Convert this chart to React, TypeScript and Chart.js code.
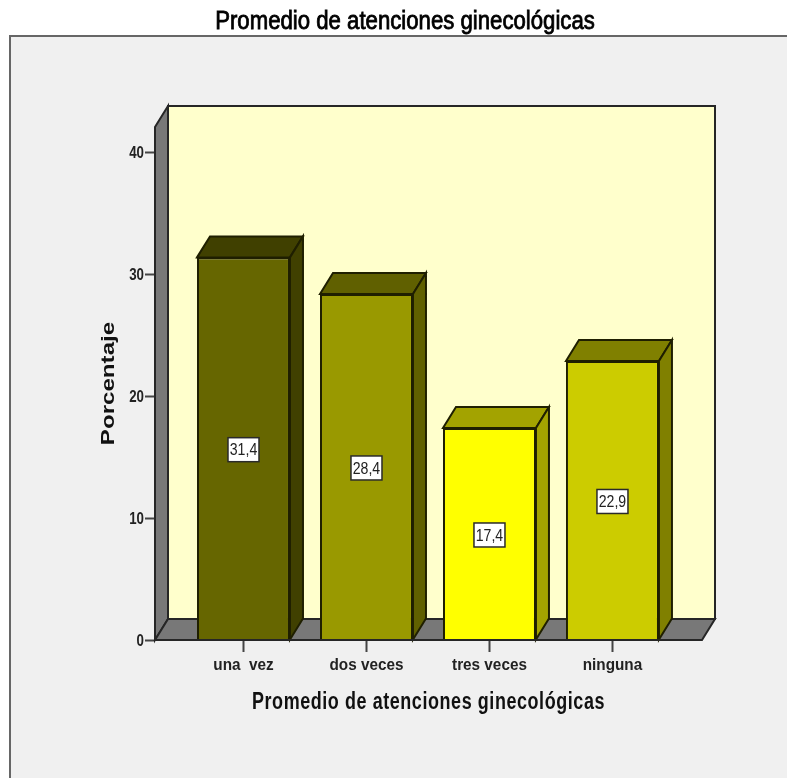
import React, { useEffect, useRef } from "react";
import { Chart, registerables } from "chart.js";

Chart.register(...registerables);

const categories = ["una  vez", "dos veces", "tres veces", "ninguna"];
const values = [31.4, 28.4, 17.4, 22.9];
const valueLabels = ["31,4", "28,4", "17,4", "22,9"];
const yTicks = [0, 10, 20, 30, 40];
const frontColors = ["#666600", "#999900", "#ffff00", "#cccc00"];
const shadeColors = ["#404000", "#606000", "#a3a300", "#808000"];
const chartTitle = "Promedio de atenciones ginecológicas";
const xTitle = "Promedio de atenciones ginecológicas";
const yTitle = "Porcentaje";

const FONT = '"Liberation Sans", Arial, sans-serif';
const DX = 13;
const DY = 21;
const LINE = "#262626";
const WALL = "#787878";

function poly(ctx: CanvasRenderingContext2D, pts: number[][], fill: string, stroke = LINE, lw = 2) {
  ctx.beginPath();
  pts.forEach((p, i) => (i ? ctx.lineTo(p[0], p[1]) : ctx.moveTo(p[0], p[1])));
  ctx.closePath();
  ctx.fillStyle = fill;
  ctx.fill();
  ctx.lineWidth = lw;
  ctx.strokeStyle = stroke;
  ctx.lineJoin = "miter";
  ctx.stroke();
}

// The reference uses a condensed face (and a stretched axis title): reshape glyphs horizontally.
function condenseText(ctx: any) {
  if (ctx.__condensed) return;
  ctx.__condensed = true;
  const orig = ctx.fillText.bind(ctx);
  ctx.fillText = (t: string, x: number, y: number) => {
    const isNumber = /^\d+$/.test(t);
    const isBold = String(ctx.font).includes("bold");
    const isXTitle = t === xTitle && isBold;
    const isMainTitle = t === chartTitle && !isBold;
    let sx = 0.83;
    if (t === yTitle) sx = 1.34;
    else if (isMainTitle) sx = 0.887;
    else if (isXTitle) sx = 0.78;
    else if (categories.includes(t)) sx = 0.9;
    ctx.save();
    ctx.translate(x, y + (isNumber ? 1.5 : 0));
    ctx.scale(sx, 1);
    if (isXTitle) ctx.letterSpacing = "0.75px";
    orig(t, 0, 0);
    if (isMainTitle) {
      ctx.strokeStyle = ctx.fillStyle;
      ctx.lineWidth = 0.8;
      ctx.strokeText(t, 0, 0);
    }
    ctx.restore();
  };
}

const framePlugin = {
  id: "frame",
  afterLayout(chart: any) {
    if (chart.titleBlock) {
      chart.titleBlock.left += 9;
      chart.titleBlock.right += 9;
    }
  },
  beforeDraw(chart: any) {
    const { ctx, width, height } = chart;
    condenseText(ctx);
    ctx.save();
    ctx.fillStyle = "#ffffff";
    ctx.fillRect(0, 0, width, height);
    ctx.fillStyle = "#f0f0f0";
    ctx.fillRect(10, 36, width - 10, height - 36);
    ctx.strokeStyle = "#666666";
    ctx.lineWidth = 2;
    ctx.beginPath();
    ctx.moveTo(10, height);
    ctx.lineTo(10, 36);
    ctx.lineTo(width, 36);
    ctx.stroke();
    ctx.restore();
  },
};

const box3dPlugin = {
  id: "box3d",
  beforeDatasetsDraw(chart: any) {
    const { ctx, chartArea: a } = chart;
    const { left: l, right: r, top: t, bottom: b } = a;
    ctx.save();
    poly(ctx, [[l + DX, t - DY], [r + DX, t - DY], [r + DX, b - DY], [l + DX, b - DY]], "#ffffcc");
    poly(ctx, [[l, t], [l + DX, t - DY], [l + DX, b - DY], [l, b]], WALL);
    poly(ctx, [[l, b], [l + DX, b - DY], [r + DX, b - DY], [r, b]], WALL);
    chart.getDatasetMeta(0).data.forEach((bar: any, i: number) => {
      const x0 = bar.x - bar.width / 2;
      const x1 = bar.x + bar.width / 2;
      const y0 = bar.y;
      const y1 = bar.base;
      poly(ctx, [[x0, y0], [x0 + DX, y0 - DY], [x1 + DX, y0 - DY], [x1, y0]], shadeColors[i], "#1f1f00");
      poly(ctx, [[x1, y0], [x1 + DX, y0 - DY], [x1 + DX, y1 - DY], [x1, y1]], shadeColors[i], "#1f1f00");
    });
    ctx.restore();
  },
  afterDatasetsDraw(chart: any) {
    const { ctx, scales, chartArea: a } = chart;
    ctx.save();
    ctx.strokeStyle = LINE;
    ctx.lineWidth = 2;
    ctx.beginPath();
    ctx.moveTo(a.left, a.bottom);
    ctx.lineTo(a.right, a.bottom);
    ctx.stroke();
    chart.getDatasetMeta(0).data.forEach((bar: any, i: number) => {
      const cy = scales.y.getPixelForValue(values[i] / 2) + 1;
      const w = 31;
      const h = 24;
      ctx.fillStyle = "#ffffff";
      ctx.strokeStyle = "#2a2a2a";
      ctx.lineWidth = 1.5;
      ctx.fillRect(bar.x - w / 2, cy - h / 2, w, h);
      ctx.strokeRect(bar.x - w / 2, cy - h / 2, w, h);
      ctx.fillStyle = "#222222";
      ctx.font = `17px ${FONT}`;
      ctx.textAlign = "center";
      ctx.textBaseline = "middle";
      ctx.fillText(valueLabels[i], bar.x, cy + 1);
    });
    ctx.restore();
  },
};

export default function App() {
  const ref = useRef<HTMLCanvasElement>(null);
  useEffect(() => {
    document.body.style.margin = "0";
    const chart = new Chart(ref.current as HTMLCanvasElement, {
      type: "bar",
      data: {
        datasets: [
          {
            data: values.map((v, i) => ({ x: i, y: v })),
            backgroundColor: frontColors,
            borderColor: "#1f1f00",
            borderWidth: 2,
            categoryPercentage: 1,
            barPercentage: 0.756,
          },
        ],
      },
      plugins: [framePlugin, box3dPlugin],
      options: {
        animation: false,
        responsive: false,
        devicePixelRatio: 1,
        layout: { padding: { left: 90, right: 85, top: 0, bottom: 58 } },
        plugins: {
          legend: { display: false },
          tooltip: { enabled: false },
          title: {
            display: true,
            text: chartTitle,
            color: "#000000",
            font: { family: FONT, size: 25, weight: "normal" },
            padding: { top: 7, bottom: 90 },
            align: "center",
          },
        },
        scales: {
          x: {
            type: "linear",
            offset: false,
            min: -0.7195,
            max: 3.728,
            afterBuildTicks(scale: any) {
              scale.ticks = categories.map((_, i) => ({ value: i }));
            },
            afterFit(scale: any) {
              scale.height = 80;
            },
            border: { display: false },
            grid: {
              offset: false,
              drawOnChartArea: false,
              drawTicks: true,
              tickLength: 12,
              tickWidth: 2,
              tickColor: "#444444",
            },
            ticks: {
              autoSkip: false,
              maxRotation: 0,
              padding: 3,
              color: "#222222",
              font: { family: FONT, size: 17, weight: "bold" },
              callback: (v: any) => categories[v],
            },
            title: {
              display: true,
              text: xTitle,
              color: "#111111",
              font: { family: FONT, size: 23, weight: "bold" },
              padding: { top: 0, bottom: 4 },
            },
          },
          y: {
            type: "linear",
            min: 0,
            max: 42.1,
            afterBuildTicks(scale: any) {
              scale.ticks = yTicks.map((v) => ({ value: v }));
            },
            afterFit(scale: any) {
              scale.width = 65;
            },
            border: { display: false },
            grid: {
              drawOnChartArea: false,
              drawTicks: true,
              tickLength: 10,
              tickWidth: 2,
              tickColor: "#444444",
            },
            ticks: {
              padding: 1,
              color: "#222222",
              font: { family: FONT, size: 16, weight: "bold" },
            },
            title: {
              display: true,
              text: yTitle,
              color: "#111111",
              font: { family: FONT, size: 18, weight: "bold" },
              padding: { top: 8, bottom: 0 },
            },
          },
        },
      } as any,
    });
    return () => chart.destroy();
  }, []);
  return <canvas ref={ref} width={787} height={778} style={{ display: "block" }} />;
}
